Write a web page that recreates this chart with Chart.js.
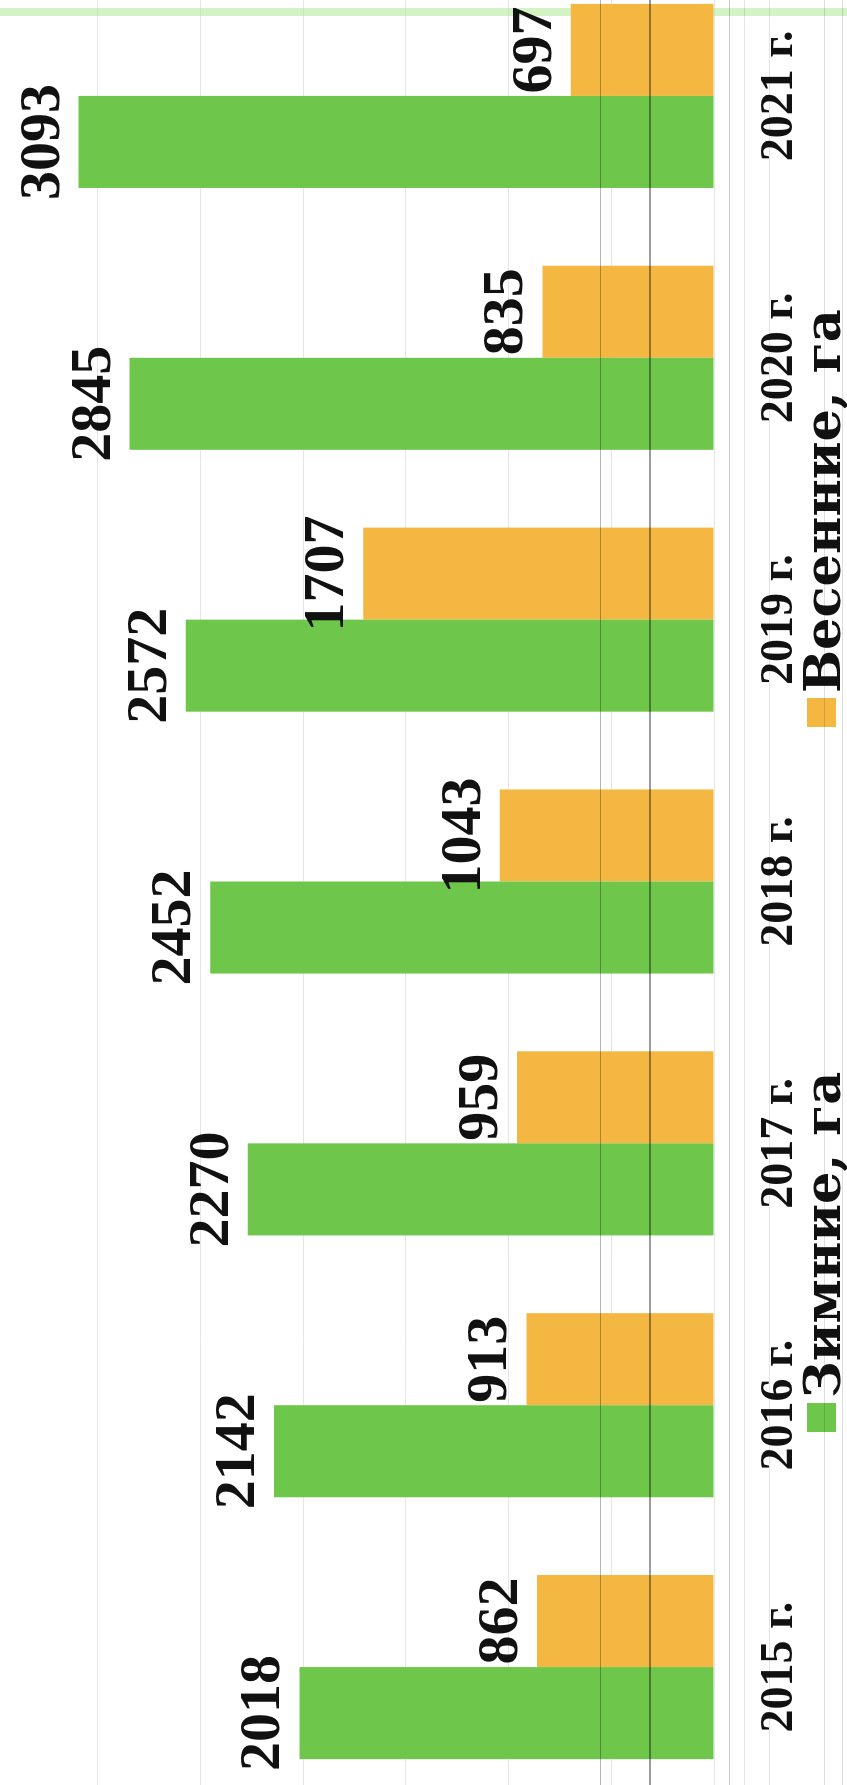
<!DOCTYPE html>
<html lang="ru">
<head>
<meta charset="utf-8">
<title>Зимние и весенние, га</title>
<script src="https://cdn.jsdelivr.net/npm/chart.js@4.4.1/dist/chart.umd.min.js"></script>
<style>
  html, body { margin: 0; padding: 0; background: #fff; }
  body { width: 847px; height: 1785px; overflow: hidden; position: relative; }
  /* chart is drawn upright and then turned a quarter turn, like the scan */
  #wrap {
    position: absolute; left: 0; top: 0;
    width: 1833px; height: 860px;
    transform-origin: 0 0;
    transform: translate(-5px, 1798px) rotate(-90deg);
  }
</style>
</head>
<body>
<div id="wrap"><canvas id="chart"></canvas></div>
<script>
const categories = ['2015 г.', '2016 г.', '2017 г.', '2018 г.', '2019 г.', '2020 г.', '2021 г.'];
const zimnie = [2018, 2142, 2270, 2452, 2572, 2845, 3093];
const vesennie = [862, 913, 959, 1043, 1707, 835, 697];
const seriesNames = ['Зимние, га', 'Весенние, га'];
const seriesColors = ['#6ec64b', '#f3b742'];

const serif = "'Liberation Serif', 'Times New Roman', serif";

// numbers above the bars
const valueLabels = {
    id: 'valueLabels',
    afterDatasetsDraw(chart) {
        const ctx = chart.ctx;
        ctx.save();
        ctx.font = "bold 58px " + serif;
        ctx.fillStyle = '#111';
        ctx.textAlign = 'center';
        ctx.textBaseline = 'alphabetic';
        chart.data.datasets.forEach((ds, i) => {
            chart.getDatasetMeta(i).data.forEach((bar, j) => {
                ctx.fillText(String(ds.data[j]), bar.x, bar.y - 20);
            });
        });
        ctx.restore();
    }
};

// legend spread out like in the original
const spreadLegend = {
    id: 'spreadLegend',
    afterDraw(chart) {
        const ctx = chart.ctx;
        const boxX = [366, 1071];
        ctx.save();
        ctx.font = "bold 51px 'DejaVu Serif', serif";
        ctx.textBaseline = 'alphabetic';
        ctx.textAlign = 'left';
        chart.data.datasets.forEach((ds, i) => {
            ctx.fillStyle = ds.backgroundColor;
            ctx.fillRect(boxX[i], 812, 29, 29);
            ctx.fillStyle = '#111';
            ctx.fillText(ds.label, boxX[i] + 34, 845);
        });
        ctx.restore();
    }
};

// faint marks left by the scanner
const scanMarks = {
    id: 'scanMarks',
    beforeDatasetsDraw(chart) {
        const ctx = chart.ctx;
        ctx.save();
        ctx.fillStyle = 'rgba(170, 232, 140, 0.5)';
        ctx.fillRect(1782, 0, 8, chart.height);
        ctx.restore();
    },
    afterDraw(chart) {
        const ctx = chart.ctx;
        const lines = [[605, 1, 'rgba(120,120,120,0.55)'], [654, 2, 'rgba(90,90,90,0.6)'],
                       [734, 1, 'rgba(150,150,150,0.5)'], [749, 1, 'rgba(190,190,190,0.4)'],
                       [774, 1, 'rgba(190,190,190,0.4)'], [829, 1, 'rgba(170,170,170,0.4)'],
                       [847, 1, 'rgba(170,170,170,0.4)']];
        ctx.save();
        ctx.globalCompositeOperation = 'multiply';
        lines.forEach(([v, w, c]) => {
            ctx.fillStyle = c;
            ctx.fillRect(0, v, chart.width, w);
        });
        ctx.restore();
    }
};

new Chart(document.getElementById('chart'), {
    type: 'bar',
    data: {
        labels: categories,
        datasets: [
            { label: seriesNames[0], data: zimnie, backgroundColor: seriesColors[0] },
            { label: seriesNames[1], data: vesennie, backgroundColor: seriesColors[1] }
        ]
    },
    options: {
        responsive: true,
        maintainAspectRatio: false,
        animation: false,
        devicePixelRatio: 1,
        layout: { padding: 0 },
        datasets: { bar: { categoryPercentage: 0.703, barPercentage: 1.0, borderWidth: 0 } },
        plugins: {
            legend: { display: false },
            tooltip: { enabled: false }
        },
        scales: {
            x: {
                grid: { display: false },
                border: { display: false },
                ticks: {
                    color: '#111',
                    font: { family: serif, size: 46, weight: 'bold' },
                    padding: 31,
                    maxRotation: 0,
                    autoSkip: false
                },
                afterFit(scale) { scale.height = 141; }
            },
            y: {
                min: 0,
                max: 3500,
                ticks: { display: false, stepSize: 500 },
                grid: { color: '#e6e6e6', drawTicks: false },
                border: { display: false },
                afterFit(scale) { scale.width = 0; }
            }
        }
    },
    plugins: [valueLabels, spreadLegend, scanMarks]
});
</script>
</body>
</html>
